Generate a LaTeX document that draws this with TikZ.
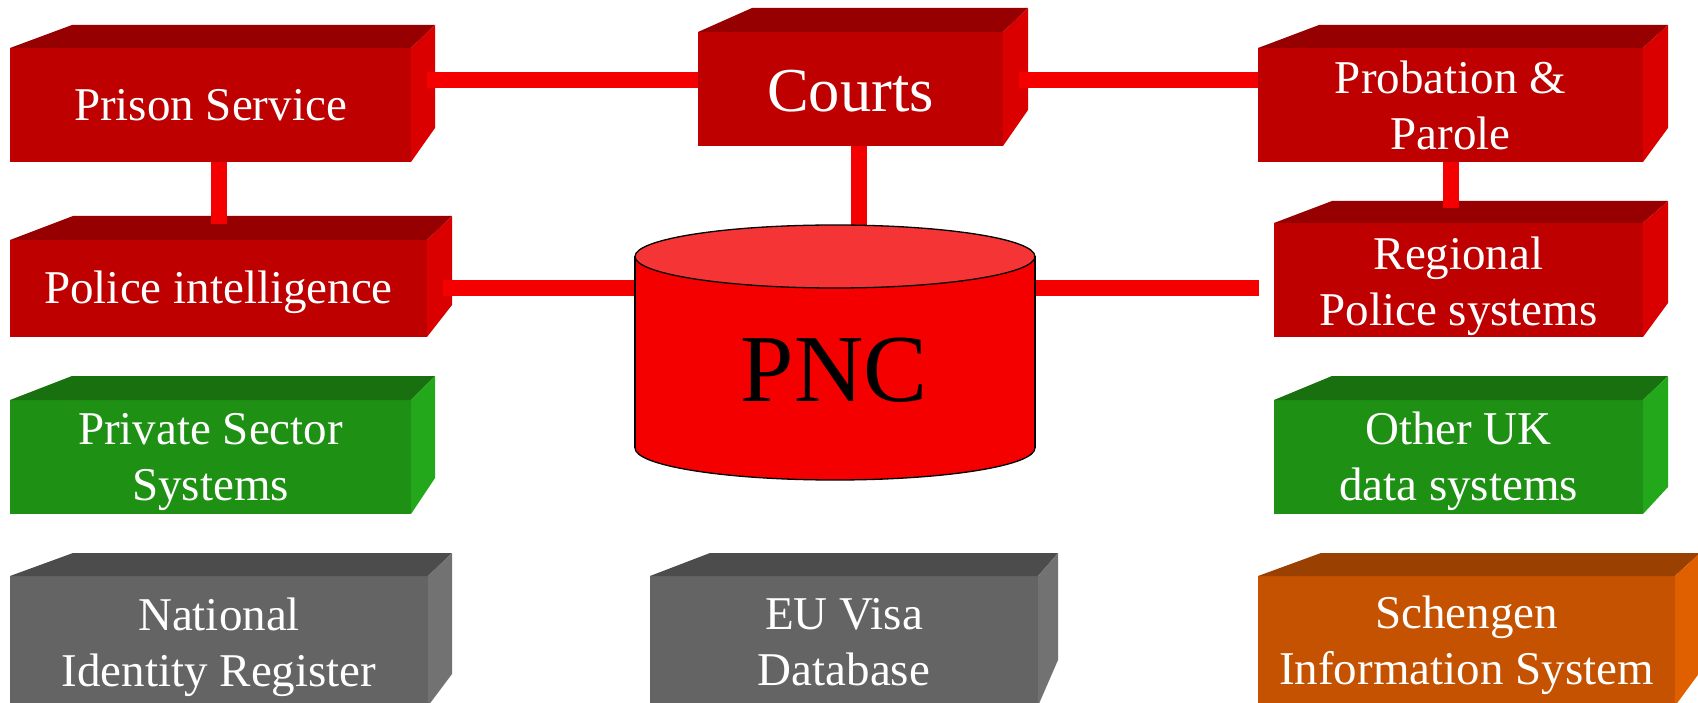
\documentclass[tikz,border=0pt]{standalone}
\usepackage{fontspec}
\setmainfont{Liberation Serif}
\usetikzlibrary{calc,fit}
\definecolor{redF}{HTML}{BE0000}
\definecolor{redT}{HTML}{960000}
\definecolor{redS}{HTML}{DA0000}
\definecolor{greenF}{HTML}{1E9114}
\definecolor{greenT}{HTML}{18700E}
\definecolor{greenS}{HTML}{22A81A}
\definecolor{greyF}{HTML}{646464}
\definecolor{greyT}{HTML}{4C4C4C}
\definecolor{greyS}{HTML}{727272}
\definecolor{orangeF}{HTML}{C45200}
\definecolor{orangeT}{HTML}{9A4000}
\definecolor{orangeS}{HTML}{E06000}
\definecolor{connred}{HTML}{F50000}
\definecolor{cylbody}{HTML}{F50000}
\definecolor{cyltop}{HTML}{F53535}
\tikzset{
  face/.style={inner sep=0pt, outer sep=0pt, draw=none},
  conn/.style={draw=connred, line width=16pt},
  lbl/.style={text=white, align=center, inner sep=0pt, outer sep=0pt,
              font=\fontsize{47}{56}\selectfont},
  biglbl/.style={text=white, align=center, inner sep=0pt, outer sep=0pt,
              font=\fontsize{62.5}{75}\selectfont},
  cylline/.style={draw=black, line width=1.3pt},
}
% #1 name, #2 scheme, #3 front top-left, #4 front bottom-right,
% #5 back top-left, #6 back top-right, #7 back bottom-right
\newcommand\pcube[7]{%
  \node[face, fit={(#3)(#4)}, fill=#2F] (#1) {};
  \fill[#2T] (#1.north west) -- (#5) -- (#6) -- (#1.north east) -- cycle;
  \fill[#2S] (#1.north east) -- (#6) -- (#7) -- (#1.south east) -- cycle;
}
\begin{document}
\begin{tikzpicture}[x=1pt,y=-1pt]
\useasboundingbox (0,0) rectangle (1698,703);
\clip (0,0) rectangle (1698,703);
\fill[white] (0,0) rectangle (1698,703);

% boxes
\pcube{prison}{red}{10,48}{411,162}{72,25}{435,25}{435,128}
\pcube{courts}{red}{698,32}{1003,146}{752,8}{1028,8}{1028,110}
\pcube{probation}{red}{1258,48}{1643,162}{1319,25}{1668,25}{1668,128}
\pcube{police}{red}{10,240}{427,337}{73,216}{452,216}{452,305}
\pcube{regional}{red}{1274,223}{1643,337}{1332,201}{1668,201}{1668,303}
\pcube{private}{green}{10,400}{411,514}{72,376}{435,376}{435,478}
\pcube{otheruk}{green}{1274,400}{1643,514}{1332,376}{1668,376}{1668,487}
\pcube{national}{grey}{10,576}{428,706}{73,553}{452,553}{452,674}
\pcube{euvisa}{grey}{650,576}{1038,706}{710,553}{1058,553}{1058,660}
\pcube{schengen}{orange}{1258,576}{1675,706}{1321,553}{1700,553}{1700,672}

% labels
\node[lbl] (prisont) at (210.5,109.8) {\strut Prison Service};
\node[biglbl] (courtst) at (850.5,97) {\strut Courts};
\node[lbl] (probationt) at (1450.5,110.3) {\strut Probation \&\\\strut Parole};
\node[lbl] (policet) at (218.5,292.8) {\strut Police intelligence};
\node[lbl] (regionalt) at (1458.5,286.8) {\strut Regional\\\strut Police systems};
\node[lbl] (privatet) at (210.5,461.3) {\strut Private Sector\\\strut Systems};
\node[lbl] (otherukt) at (1458.5,461) {\strut Other UK\\\strut data systems};
\node[lbl] (nationalt) at (219,646.8) {\strut National\\\strut Identity Register};
\node[lbl] (euvisat) at (844,645.8) {\strut EU Visa\\\strut Database};
\node[lbl] (schengent) at (1466.5,645) {\strut Schengen\\\strut Information System};

% PNC frame node
\node[face, minimum width=400pt, minimum height=255pt] (pnc) at (835,352.5) {};

% connectors
\draw[conn] ($(prison.north east)+(16,32.5)$) -- ($(courts.north west)+(0,48.5)$);
\draw[conn] ($(courts.north east)+(16,48.5)$) -- ($(probation.north west)+(0,32.5)$);
\draw[conn] ($(prison.south)+(8.5,0)$) -- ($(police.north)+(0.5,-16)$);
\draw[conn] ($(courts.south)+(8.5,0)$) -- ($(pnc.north)+(24,0)$);
\draw[conn] ($(probation.south)+(0.5,0)$) -- ($(regional.north)+(-7.5,-15)$);
\draw[conn] ($(police.east)+(16,0)$) -- (pnc.west |- police.east);
\draw[conn] (pnc.east |- police.east) -- ($(regional.west |- police.east)+(-15,0)$);

% cylinder
\fill[cylbody] (835,448) ellipse [x radius=200, y radius=32];
\draw[cylline] (835,448) ellipse [x radius=200, y radius=32];
\fill[cylbody] (635,256.5) rectangle (1035,448);
\draw[cylline] (635,256.5) -- (635,448);
\draw[cylline] (1035,256.5) -- (1035,448);
\filldraw[fill=cyltop, cylline] (835,256.5) ellipse [x radius=200, y radius=31.5];
\node[inner sep=0pt, font=\fontsize{96}{110}\selectfont, text=black] (pnct) at (834,370) {PNC};
\end{tikzpicture}
\end{document}
